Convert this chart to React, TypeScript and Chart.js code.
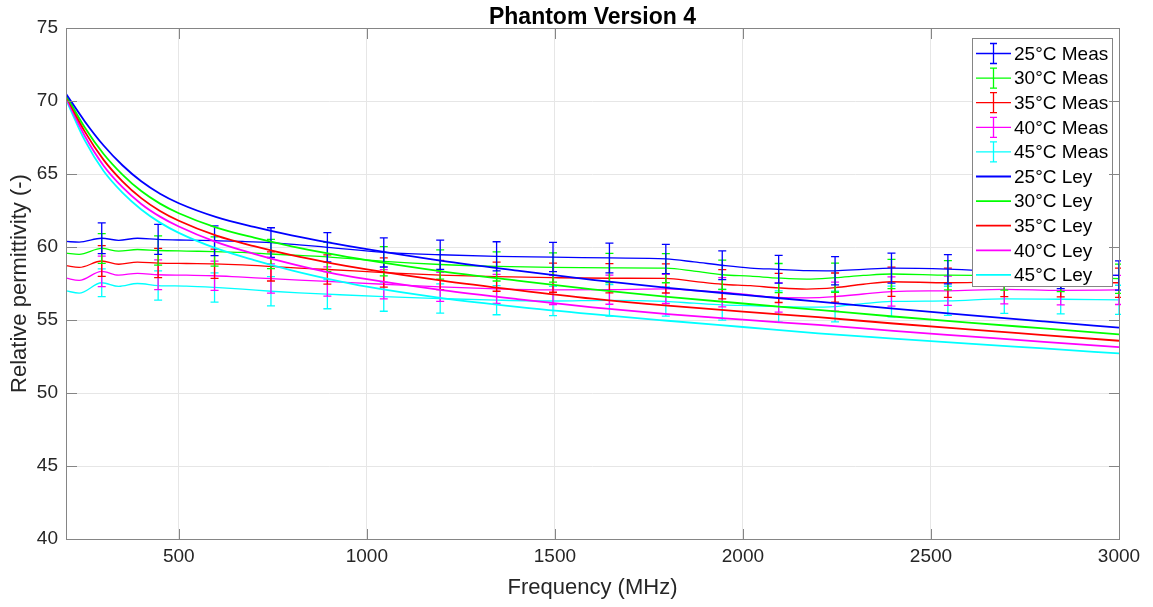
import React, { useEffect, useRef } from "react";
import { Chart, registerables } from "chart.js";

Chart.register(...registerables);

// ---------- data ----------
const measFreq = [200, 235, 295, 340, 390, 445, 520, 595, 670, 745, 820, 895, 1045, 1195, 1345, 1495, 1645, 1795, 1870, 1945, 2020, 2095, 2170, 2245, 2320, 2395, 2545, 2695, 2845, 3000];
const meas25 = [60.38, 60.33, 60.6, 60.46, 60.6, 60.52, 60.47, 60.43, 60.38, 60.3, 60.15, 59.98, 59.63, 59.47, 59.36, 59.31, 59.25, 59.18, 58.98, 58.75, 58.56, 58.47, 58.38, 58.37, 58.47, 58.55, 58.48, 58.3, 58.15, 58.05];
const meas30 = [59.58, 59.5, 59.9, 59.72, 59.83, 59.76, 59.72, 59.69, 59.63, 59.52, 59.42, 59.32, 59.02, 58.8, 58.67, 58.6, 58.57, 58.55, 58.35, 58.1, 58.0, 57.87, 57.8, 57.9, 58.05, 58.15, 58.07, 58.05, 57.95, 57.83];
const meas35 = [58.73, 58.6, 59.04, 58.82, 58.97, 58.9, 58.87, 58.85, 58.78, 58.67, 58.55, 58.46, 58.25, 58.08, 57.97, 57.9, 57.86, 57.85, 57.65, 57.45, 57.35, 57.2, 57.12, 57.22, 57.45, 57.62, 57.55, 57.6, 57.58, 57.55];
const meas40 = [57.87, 57.71, 58.33, 58.07, 58.2, 58.1, 58.07, 58.03, 57.93, 57.84, 57.73, 57.64, 57.45, 57.27, 57.13, 57.06, 57.08, 57.13, 57.02, 56.9, 56.72, 56.54, 56.52, 56.6, 56.78, 56.95, 57.0, 57.1, 57.03, 57.06];
const meas45 = [57.0, 56.84, 57.55, 57.3, 57.5, 57.36, 57.32, 57.23, 57.11, 56.97, 56.86, 56.77, 56.6, 56.47, 56.36, 56.3, 56.35, 56.27, 56.15, 56.04, 55.98, 55.92, 55.88, 55.92, 56.12, 56.27, 56.31, 56.45, 56.42, 56.38];

const errFreq = [295, 445, 595, 745, 895, 1045, 1195, 1345, 1495, 1645, 1795, 1945, 2095, 2245, 2395, 2545, 2695, 2845, 3000];
const err25 = [1.05, 1.03, 1.02, 1.02, 1.0, 1.0, 1.0, 1.0, 1.0, 1.02, 1.0, 0.98, 0.95, 0.97, 1.03, 1.0, 1.0, 1.0, 1.0];
const err30 = [1.02, 1.0, 1.0, 1.0, 1.0, 1.0, 1.0, 1.0, 1.0, 1.0, 1.0, 1.0, 1.0, 1.0, 1.0, 1.0, 1.0, 1.0, 1.0];
const err35 = [1.05, 1.0, 1.0, 1.0, 1.0, 1.0, 1.0, 1.0, 1.0, 1.0, 1.0, 1.0, 1.0, 1.0, 1.0, 1.0, 1.0, 1.0, 1.0];
const err40 = [1.05, 1.02, 1.0, 1.0, 1.0, 1.0, 1.0, 1.0, 1.0, 1.0, 1.0, 1.0, 1.0, 1.0, 1.0, 1.0, 1.0, 1.0, 1.0];
const err45 = [0.95, 1.0, 1.0, 1.0, 1.0, 1.0, 1.0, 1.0, 1.0, 1.08, 1.0, 1.05, 1.07, 1.05, 1.05, 1.0, 1.0, 1.0, 1.0];

const leyFreq = [200, 250, 300, 350, 400, 450, 500, 600, 700, 800, 900, 1000, 1200, 1400, 1600, 1800, 2000, 2200, 2400, 2600, 2800, 3000];
const ley25 = [70.5, 68.6, 66.95, 65.6, 64.5, 63.65, 63.0, 62.05, 61.38, 60.8, 60.3, 59.85, 59.05, 58.38, 57.75, 57.2, 56.72, 56.26, 55.78, 55.33, 54.9, 54.48];
const ley30 = [70.42, 68.18, 66.37, 64.96, 63.83, 62.97, 62.31, 61.33, 60.64, 60.05, 59.54, 59.1, 58.33, 57.7, 57.1, 56.59, 56.13, 55.69, 55.24, 54.82, 54.42, 54.02];
const ley35 = [70.33, 67.9, 65.97, 64.5, 63.35, 62.47, 61.8, 60.78, 60.06, 59.44, 58.92, 58.47, 57.7, 57.05, 56.46, 55.98, 55.58, 55.19, 54.76, 54.36, 53.97, 53.58];
const ley40 = [70.21, 67.6, 65.57, 64.1, 62.95, 62.08, 61.4, 60.33, 59.53, 58.84, 58.25, 57.8, 57.05, 56.43, 55.87, 55.4, 55.02, 54.66, 54.26, 53.88, 53.5, 53.14];
const ley45 = [70.1, 67.3, 65.2, 63.72, 62.57, 61.67, 60.97, 59.9, 59.1, 58.4, 57.8, 57.28, 56.5, 55.9, 55.4, 54.95, 54.52, 54.09, 53.73, 53.38, 53.05, 52.71];

const measLabels = ["25°C Meas", "30°C Meas", "35°C Meas", "40°C Meas", "45°C Meas"];
const leyLabels = ["25°C Ley", "30°C Ley", "35°C Ley", "40°C Ley", "45°C Ley"];
const colors = ["#0000ff", "#00ff00", "#ff0000", "#ff00ff", "#00ffff"];

const xTicks = [500, 1000, 1500, 2000, 2500, 3000];
const yTicks = [40, 45, 50, 55, 60, 65, 70, 75];

const titleText = "Phantom Version 4";
const xTitle = "Frequency (MHz)";
const yTitle = "Relative permittivity (-)";

const FONT = "'Liberation Sans', Arial, Helvetica, sans-serif";

const measSeries = [meas25, meas30, meas35, meas40, meas45];
const errSeries = [err25, err30, err35, err40, err45];
const leySeries = [ley25, ley30, ley35, ley40, ley45];

const errorBarPlugin = {
  id: "errorBars",
  afterDatasetDraw(chart: any, args: any) {
    const ds: any = chart.data.datasets[args.index];
    if (!ds.errors) return;
    const { ctx, scales, chartArea } = chart;
    const xs = scales.x, ys = scales.y;
    ctx.save();
    ctx.beginPath();
    ctx.rect(chartArea.left, chartArea.top, chartArea.right - chartArea.left + 2, chartArea.bottom - chartArea.top);
    ctx.clip();
    ctx.strokeStyle = ds.borderColor;
    ctx.lineWidth = 1.3;
    errFreq.forEach((f, k) => {
      const pt = ds.data.find((p: any) => p.x === f);
      if (!pt) return;
      const e = ds.errors[k];
      const px = xs.getPixelForValue(f);
      const yt = ys.getPixelForValue(pt.y + e);
      const yb = ys.getPixelForValue(pt.y - e);
      ctx.beginPath();
      ctx.moveTo(px, yt);
      ctx.lineTo(px, yb);
      ctx.moveTo(px - 4, yt);
      ctx.lineTo(px + 4, yt);
      ctx.moveTo(px - 4, yb);
      ctx.lineTo(px + 4, yb);
      ctx.stroke();
    });
    ctx.restore();
  },
};

const framePlugin = {
  id: "frame",
  afterDraw(chart: any) {
    const { ctx, chartArea, scales } = chart;
    const { left, right, top, bottom } = chartArea;
    ctx.save();
    // legend box
    const lx = 972.5, ly = 38.5, lw = 140, lh = 248;
    ctx.fillStyle = "#ffffff";
    ctx.fillRect(lx, ly, lw, lh);
    ctx.strokeStyle = "#858585";
    ctx.lineWidth = 1;
    ctx.strokeRect(lx, ly, lw, lh);
    ctx.font = `19px ${FONT}`;
    ctx.textBaseline = "middle";
    ctx.textAlign = "left";
    const all = [...measLabels, ...leyLabels];
    all.forEach((lab, i) => {
      const cy = 53.5 + i * 24.6;
      const c = colors[i % 5];
      ctx.strokeStyle = c;
      ctx.lineWidth = i < 5 ? 1.3 : 1.8;
      ctx.beginPath();
      ctx.moveTo(976, cy);
      ctx.lineTo(1011, cy);
      ctx.stroke();
      if (i < 5) {
        ctx.lineWidth = 1.3;
        ctx.beginPath();
        ctx.moveTo(993.5, cy - 10);
        ctx.lineTo(993.5, cy + 10);
        ctx.moveTo(990, cy - 10);
        ctx.lineTo(997, cy - 10);
        ctx.moveTo(990, cy + 10);
        ctx.lineTo(997, cy + 10);
        ctx.stroke();
      }
      ctx.fillStyle = "#000000";
      ctx.fillText(lab, 1014, cy + 1);
    });

    // axes box
    ctx.strokeStyle = "#858585";
    ctx.lineWidth = 1;
    const L = Math.round(left) + 0.5, R = Math.round(right) + 0.5, T = Math.round(top) + 0.5, B = Math.round(bottom) + 0.5;
    ctx.strokeRect(L, T, R - L, B - T);
    // inward ticks
    const tl = 10.5;
    ctx.beginPath();
    xTicks.forEach((v) => {
      const px = Math.round(scales.x.getPixelForValue(v)) + 0.5;
      ctx.moveTo(px, B);
      ctx.lineTo(px, B - tl);
      ctx.moveTo(px, T);
      ctx.lineTo(px, T + tl);
    });
    yTicks.forEach((v) => {
      const py = Math.round(scales.y.getPixelForValue(v)) + 0.5;
      ctx.moveTo(L, py);
      ctx.lineTo(L + tl, py);
      ctx.moveTo(R, py);
      ctx.lineTo(R - tl, py);
    });
    ctx.stroke();

    // title
    ctx.fillStyle = "#000000";
    ctx.font = `bold 23px ${FONT}`;
    ctx.textAlign = "center";
    ctx.textBaseline = "alphabetic";
    ctx.fillText(titleText, (left + right) / 2, 24);
    ctx.restore();
  },
};

export default function App() {
  const ref = useRef<HTMLCanvasElement | null>(null);

  useEffect(() => {
    if (!ref.current) return;
    const datasets: any[] = [];
    measSeries.forEach((vals, i) => {
      datasets.push({
        label: measLabels[i],
        data: measFreq.map((f, k) => ({ x: f, y: vals[k] })),
        errors: errSeries[i],
        borderColor: colors[i],
        backgroundColor: colors[i],
        borderWidth: 1.3,
        pointRadius: 0,
        cubicInterpolationMode: "monotone",
        order: 2,
      });
    });
    leySeries.forEach((vals, i) => {
      datasets.push({
        label: leyLabels[i],
        data: leyFreq.map((f, k) => ({ x: f, y: vals[k] })),
        borderColor: colors[i],
        backgroundColor: colors[i],
        borderWidth: 1.8,
        pointRadius: 0,
        cubicInterpolationMode: "monotone",
        order: 1,
      });
    });

    const chart = new Chart(ref.current, {
      type: "line",
      data: { datasets },
      options: {
        animation: false,
        responsive: true,
        maintainAspectRatio: false,
        layout: { padding: { top: 28, right: 34, left: 0, bottom: 0 } },
        plugins: {
          legend: { display: false },
          title: { display: false },
          tooltip: { enabled: false },
        },
        scales: {
          x: {
            type: "linear",
            min: 200,
            max: 3000,
            afterBuildTicks: (axis: any) => {
              axis.ticks = xTicks.map((v) => ({ value: v }));
            },
            afterFit: (axis: any) => {
              axis.height = 68;
            },
            grid: { color: "#e6e6e6", drawTicks: false },
            border: { display: false },
            ticks: {
              autoSkip: false,
              maxRotation: 0,
              padding: 6,
              color: "#262626",
              font: { family: FONT, size: 19 },
              callback: (v: any) => String(v),
            },
            title: {
              display: true,
              text: xTitle,
              color: "#262626",
              font: { family: FONT, size: 22 },
              padding: { top: 0, bottom: 6 },
            },
          },
          y: {
            type: "linear",
            min: 40,
            max: 75,
            afterBuildTicks: (axis: any) => {
              axis.ticks = yTicks.map((v) => ({ value: v }));
            },
            afterFit: (axis: any) => {
              axis.width = 66;
            },
            grid: { color: "#e6e6e6", drawTicks: false },
            border: { display: false },
            ticks: {
              padding: 8,
              color: "#262626",
              font: { family: FONT, size: 19 },
              callback: (v: any) => String(v),
            },
            title: {
              display: true,
              text: yTitle,
              color: "#262626",
              font: { family: FONT, size: 22 },
              padding: { top: 7, bottom: 0 },
            },
          },
        },
      },
      plugins: [errorBarPlugin, framePlugin],
    } as any);
    return () => chart.destroy();
  }, []);

  return (
    <div style={{ position: "fixed", left: 0, top: 0, width: 1153, height: 607, background: "#fff" }}>
      <canvas ref={ref} />
    </div>
  );
}
